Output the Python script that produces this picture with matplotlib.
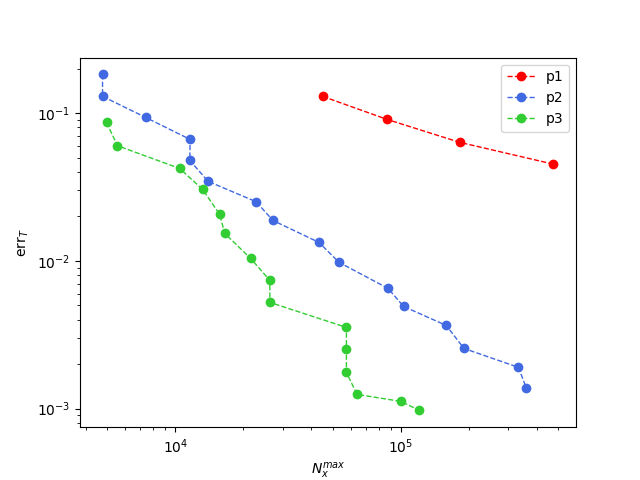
import numpy as np
import matplotlib
matplotlib.use("Agg")
import matplotlib.pyplot as plt

# p1
n_p1 = [45000, 86900, 182400, 475000]
err_p1 = [0.1298, 0.0906, 0.0634, 0.0451]

# p2
n_p2 = [4756, 4756, 7380, 11620, 11600, 13970, 22840, 27060, 43350,
        53200, 87800, 102800, 159000, 190500, 332200, 360600]
err_p2 = [0.1828, 0.1298, 0.0935, 0.0664, 0.0478, 0.0345, 0.0251, 0.01877,
          0.01332, 0.00976, 0.0065, 0.00491, 0.00365, 0.00255, 0.0019, 0.001368]

# p3
n_p3 = [4952, 5540, 10450, 13220, 15730, 16560, 21570, 26250, 26250,
        57370, 57370, 57370, 63940, 100300, 120600]
err_p3 = [0.0865, 0.0601, 0.0422, 0.0304, 0.0206, 0.01533, 0.01038, 0.00737,
          0.00523, 0.00354, 0.00251, 0.001755, 0.001246, 0.001117, 0.000971]

fig = plt.figure(figsize=(6.4, 4.8), dpi=100)
plt.loglog(n_p1, err_p1, 'o--', color='red', lw=1, label='p1')
plt.loglog(n_p2, err_p2, 'o--', color='royalblue', lw=1, label='p2')
plt.loglog(n_p3, err_p3, 'o--', color='limegreen', lw=1, label='p3')
plt.xlabel('$N_x^{max}$')
plt.ylabel('err$_T$')
plt.legend(loc='upper right')
plt.savefig('out.png')
